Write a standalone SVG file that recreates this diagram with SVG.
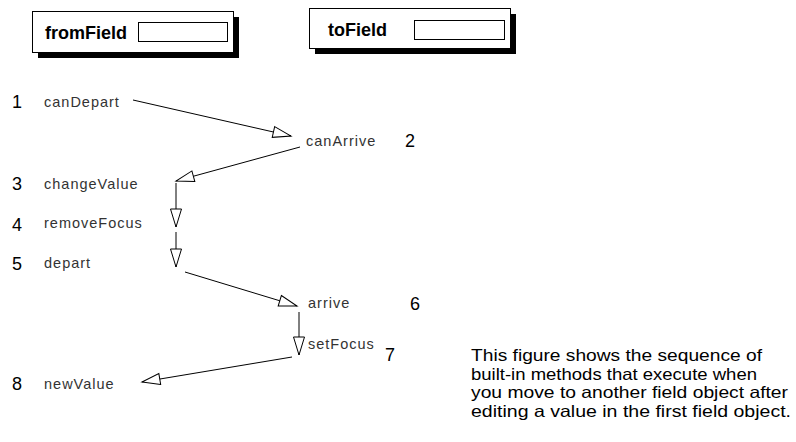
<svg xmlns="http://www.w3.org/2000/svg" width="796" height="442" viewBox="0 0 796 442">
  <style>
    .panel { fill: #fff; stroke: #000; stroke-width: 1; }
    .shadow { fill: #000; }
    .slot { fill: #fff; stroke: #000; stroke-width: 1; }
    .title { font-family: "Liberation Sans", Arial, sans-serif; font-weight: bold; font-size: 18px; fill: #000; }
    .step { font-family: "Liberation Sans", Arial, sans-serif; font-size: 18px; fill: #000; }
    .method { font-family: "Liberation Sans", Arial, sans-serif; font-size: 14.5px; letter-spacing: 1px; fill: #333; }
    .note { font-family: "Liberation Sans", Arial, sans-serif; font-size: 16.5px; fill: #000; }
    .link { fill: none; stroke: #000; stroke-width: 1; marker-end: url(#open); }
  </style>
  <defs>
    <marker id="open" markerUnits="userSpaceOnUse" markerWidth="20" markerHeight="12" refX="18" refY="5.5" orient="auto" overflow="visible">
      <path d="M0,0 L18,5.5 L0,11 Z" fill="#fff" stroke="#000" stroke-width="1"/>
    </marker>
  </defs>

  <rect width="796" height="442" fill="#fff"/>

  <!-- field objects -->
  <g id="fromField">
    <rect class="shadow" x="38" y="17" width="201" height="41"/>
    <rect class="panel" x="32.5" y="11.5" width="201" height="41"/>
    <text class="title" x="45" y="39">fromField</text>
    <rect class="slot" x="138.5" y="22.5" width="89" height="19"/>
  </g>
  <g id="toField">
    <rect class="shadow" x="315" y="14" width="201" height="40"/>
    <rect class="panel" x="309.5" y="8.5" width="201" height="40"/>
    <text class="title" x="328" y="36">toField</text>
    <rect class="slot" x="414.5" y="20.5" width="90" height="19"/>
  </g>

  <!-- method calls -->
  <g id="canDepart"><text class="step" x="12" y="108">1</text><text class="method" x="44" y="107">canDepart</text></g>
  <g id="canArrive"><text class="method" x="306" y="146">canArrive</text><text class="step" x="405" y="147">2</text></g>
  <g id="changeValue"><text class="step" x="12" y="190">3</text><text class="method" x="44" y="189">changeValue</text></g>
  <g id="removeFocus"><text class="step" x="12" y="231">4</text><text class="method" x="44" y="228">removeFocus</text></g>
  <g id="depart"><text class="step" x="12" y="270">5</text><text class="method" x="44" y="268">depart</text></g>
  <g id="arrive"><text class="method" x="308" y="308">arrive</text><text class="step" x="410" y="310">6</text></g>
  <g id="setFocus"><text class="method" x="308" y="349">setFocus</text><text class="step" x="385" y="361">7</text></g>
  <g id="newValue"><text class="step" x="12" y="390">8</text><text class="method" x="44" y="389">newValue</text></g>

  <!-- call sequence -->
  <g id="connectors">
    <line class="link" x1="133" y1="100" x2="291" y2="136"/>
    <line class="link" x1="300" y1="147" x2="176" y2="181"/>
    <line class="link" x1="176" y1="183" x2="176" y2="227"/>
    <line class="link" x1="176" y1="232" x2="176" y2="267"/>
    <line class="link" x1="185" y1="272" x2="297" y2="306"/>
    <line class="link" x1="299" y1="312" x2="299" y2="355"/>
    <line class="link" x1="292" y1="357" x2="142" y2="382"/>
  </g>

  <!-- caption -->
  <g id="caption">
    <text class="note" x="471" y="361" textLength="291" lengthAdjust="spacingAndGlyphs">This figure shows the sequence of</text>
    <text class="note" x="471" y="379.5" textLength="286" lengthAdjust="spacingAndGlyphs">built-in methods that execute when</text>
    <text class="note" x="471" y="398" textLength="317" lengthAdjust="spacingAndGlyphs">you move to another field object after</text>
    <text class="note" x="471" y="416.5" textLength="320" lengthAdjust="spacingAndGlyphs">editing a value in the first field object.</text>
  </g>
</svg>
